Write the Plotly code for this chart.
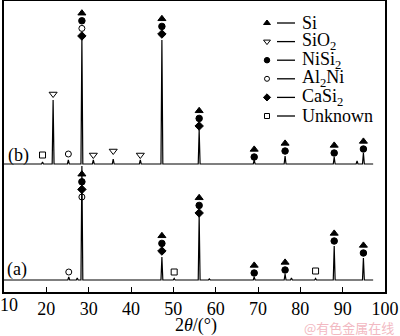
import plotly.graph_objects as go

# ---------------- data ----------------
# diffraction peaks: position (2theta, deg) and height above baseline (arb. units)
peaks_a_pos = [25.3, 27.3, 28.4, 47.3, 50.2, 56.1, 58.5, 69.1, 76.4, 77.9, 83.6, 88.0, 94.9]
peaks_a_int = [3, 2, 114, 23, 1.5, 64, 1, 3, 6, 2, 1.5, 34, 22]
baseline_a = 12

peaks_b_pos = [19.1, 21.6, 25.2, 28.4, 31.1, 35.8, 42.2, 47.3, 56.1, 69.1, 76.4, 88.0, 93.4, 94.9]
peaks_b_int = [2, 64, 4, 126, 4, 5, 4, 124, 34, 4, 8, 7, 3, 11]
baseline_b = 128

scan_start, scan_end = 10.0, 97.2

# phase identification marks: peak position, level of lowest mark, phases bottom -> top
marks_a_pos = [25.3, 28.4, 47.3, 50.2, 56.1, 69.1, 76.4, 83.6, 88.0, 94.9]
marks_a_base = [20, 95, 41, 20, 79, 19, 22, 21, 51, 39]
marks_a_phases = [["Al2Ni"], ["Al2Ni", "CaSi2", "NiSi2", "Si"], ["CaSi2", "NiSi2", "Si"],
                  ["Unknown"], ["CaSi2", "NiSi2", "Si"], ["NiSi2", "Si"], ["NiSi2", "Si"],
                  ["Unknown"], ["NiSi2", "Si"], ["NiSi2", "Si"]]

marks_b_pos = [19.1, 21.6, 25.2, 28.4, 31.1, 35.8, 42.2, 47.3, 56.1, 69.1, 76.4, 88.0, 94.9]
marks_b_base = [137, 198, 138, 256, 137, 141, 137, 258, 166, 135, 141, 139, 143]
marks_b_phases = [["Unknown"], ["SiO2"], ["Al2Ni"], ["CaSi2", "Al2Ni", "NiSi2", "Si"], ["SiO2"],
                  ["SiO2"], ["SiO2"], ["CaSi2", "NiSi2", "Si"], ["CaSi2", "NiSi2", "Si"],
                  ["NiSi2", "Si"], ["NiSi2", "Si"], ["NiSi2", "Si"], ["NiSi2", "Si"]]

phases = ["Si", "SiO2", "NiSi2", "Al2Ni", "CaSi2", "Unknown"]
phase_labels = ["Si", "SiO<sub>2</sub>", "NiSi<sub>2</sub>", "Al<sub>2</sub>Ni",
                "CaSi<sub>2</sub>", "Unknown"]
x_ticks = [10, 20, 30, 40, 50, 60, 70, 80, 90, 100]
x_tick_labels = ["", "20", "30", "40", "50", "60", "70", "80", "90", "100"]
first_tick_label = "10"

# ---------------- styles ----------------
SERIF = "Liberation Serif, Times New Roman, serif"
phase_style = {
    "Si": dict(symbol="triangle-up", size=7),
    "SiO2": dict(symbol="triangle-down-open", size=7),
    "NiSi2": dict(symbol="circle", size=6.5),
    "Al2Ni": dict(symbol="circle-open", size=6),
    "CaSi2": dict(symbol="diamond", size=6.5),
    "Unknown": dict(symbol="square-open", size=6),
}
STEP = 7.6
HALF_W = 0.22

# pixel geometry of plot area
W, H = 400, 336
L, R, T, B = 4, 385, 1, 292


def px(x):
    return (x - L) / (R - L)


def py(y):
    return (B - y) / (B - T)


def profile(pos, hts, base):
    xs, ys = [scan_start], [base]
    for p, h in sorted(zip(pos, hts)):
        xs += [p - HALF_W, p, p + HALF_W]
        ys += [base, base + h, base]
    xs.append(scan_end)
    ys.append(base)
    return xs, ys


fig = go.Figure()
for pos, hts, base in [(peaks_a_pos, peaks_a_int, baseline_a), (peaks_b_pos, peaks_b_int, baseline_b)]:
    xs, ys = profile(pos, hts, base)
    fig.add_trace(go.Scatter(x=xs, y=ys, mode="lines", line=dict(color="black", width=1.2),
                             showlegend=False, hoverinfo="skip"))

# phase marks
for ph in phases:
    mx, my = [], []
    for pos_l, base_l, ph_l in [(marks_a_pos, marks_a_base, marks_a_phases),
                                (marks_b_pos, marks_b_base, marks_b_phases)]:
        for p, b0, lst in zip(pos_l, base_l, ph_l):
            for k, name in enumerate(lst):
                if name == ph:
                    mx.append(p)
                    my.append(b0 + k * STEP)
    st = phase_style[ph]
    fig.add_trace(go.Scatter(x=mx, y=my, mode="markers",
                             marker=dict(symbol=st["symbol"], size=st["size"], color="black",
                                         line=dict(color="black", width=1)),
                             showlegend=False, hoverinfo="skip"))

# custom legend (overlay axes in pixel units)
leg_rows = [23, 41.6, 60.2, 78.8, 97.4, 116]
for ph, lab, yy in zip(phases, phase_labels, leg_rows):
    st = phase_style[ph]
    fig.add_trace(go.Scatter(x=[267], y=[yy], xaxis="x2", yaxis="y2", mode="markers",
                             marker=dict(symbol=st["symbol"], size=st["size"] - 1, color="black",
                                         line=dict(color="black", width=1)),
                             showlegend=False, hoverinfo="skip"))
    fig.add_shape(type="line", xref="paper", yref="paper", x0=px(277), x1=px(295),
                  y0=py(yy), y1=py(yy), line=dict(color="black", width=1.3))
    fig.add_annotation(text=lab, xref="paper", yref="paper", x=px(300), y=py(yy),
                       xanchor="left", yanchor="middle", showarrow=False,
                       font=dict(family=SERIF, size=18, color="black"))


def label(text, x, y, font):
    fig.add_annotation(text=text, xref="paper", yref="paper", x=px(x), y=py(y),
                       xanchor="center", yanchor="middle", showarrow=False, font=font)


serif_font = dict(family=SERIF, size=18, color="black")
label("(b)", 18, 155, serif_font)
label("(a)", 17, 269, serif_font)
label(first_tick_label, 9, 305, serif_font)
label("2<i>θ</i>/(°)", 196, 325, serif_font)
label("@有色金属在线", 349, 327, dict(family="Noto Sans CJK SC", size=13, color="#f2b9c2"))

axis_common = dict(showgrid=False, zeroline=False, showline=True, mirror=True,
                   linecolor="black", linewidth=1.5, automargin=False)
fig.update_layout(
    template="none",
    width=W, height=H, autosize=False,
    margin=dict(l=L, r=W - R, t=T, b=H - B, pad=0),
    paper_bgcolor="white", plot_bgcolor="white",
    xaxis=dict(range=[10, 100], tickvals=x_ticks, ticktext=x_tick_labels, ticks="inside",
               ticklen=5, tickwidth=1.2, tickcolor="black",
               tickfont=dict(family=SERIF, size=18, color="black"), **axis_common),
    yaxis=dict(range=[0, B - T], showticklabels=False, ticks="", **axis_common),
    xaxis2=dict(range=[L, R], overlaying="x", visible=False, showgrid=False, zeroline=False),
    yaxis2=dict(range=[B, T], overlaying="y", visible=False, showgrid=False, zeroline=False),
    showlegend=False,
)

fig.write_html("out.html", config={"displayModeBar": False},
               post_script="document.body.style.margin='0';document.body.style.overflow='hidden';")
